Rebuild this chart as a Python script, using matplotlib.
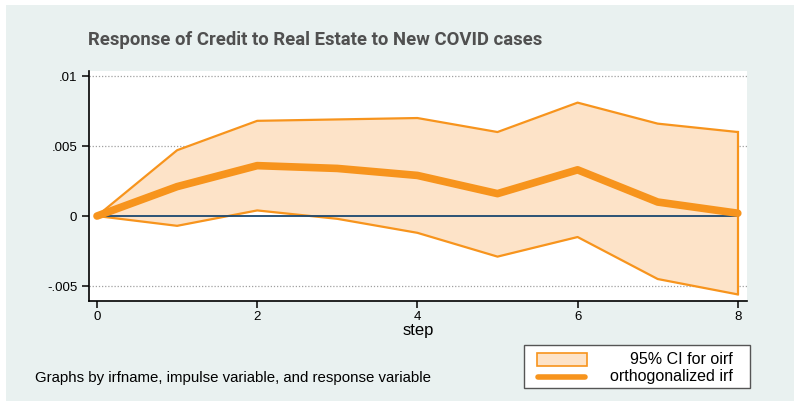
import matplotlib.pyplot as plt
from matplotlib.patches import Rectangle
from matplotlib.lines import Line2D

# IRF data
steps = [0, 1, 2, 3, 4, 5, 6, 7, 8]
irf = [0.0, 0.0021, 0.0036, 0.0034, 0.0029, 0.0016, 0.0033, 0.0010, 0.0002]
ci_upper = [0.0, 0.0047, 0.0068, 0.0069, 0.0070, 0.0060, 0.0081, 0.0066, 0.0060]
ci_lower = [0.0, -0.0007, 0.0004, -0.0002, -0.0012, -0.0029, -0.0015, -0.0045, -0.0056]
yticks = [-0.005, 0, 0.005, 0.01]
ytick_labels = ["-.005", "0", ".005", ".01"]
xticks = [0, 2, 4, 6, 8]
legend_labels = ["95% CI for oirf", "orthogonalized irf"]

orange = "#f7941d"
peach = "#fde3c8"
bg = "#e9f1f0"
W, H = 794, 404


def px(x, y):
    # pixel position (from top-left) -> figure fraction
    return x / W, 1 - y / H


fig = plt.figure(figsize=(W / 100, H / 100), dpi=100, facecolor="white")

# light background panel with a thin white margin, as in the reference
fig.add_artist(Rectangle(px(6, 401), 1 - 6 / W, 396 / H, transform=fig.transFigure,
                         facecolor=bg, edgecolor="none", zorder=-10))

ax = fig.add_axes([89 / W, (H - 301) / H, (747 - 89) / W, (301 - 71) / H])
ax.set_facecolor("white")

ax.fill_between(steps, ci_lower, ci_upper, color=peach, linewidth=0, zorder=2)
ax.plot(steps, ci_upper, color=orange, lw=1.6, zorder=3)
ax.plot(steps, ci_lower, color=orange, lw=1.6, zorder=3)
ax.plot([steps[-1], steps[-1]], [ci_lower[-1], ci_upper[-1]], color=orange, lw=1.6, zorder=3)
ax.plot([steps[0], steps[-1]], [0, 0], color="#1a476f", lw=1.3, zorder=4)
ax.plot(steps, irf, color=orange, lw=5.5, solid_capstyle="round", zorder=5)

for v in [-0.005, 0.005, 0.01]:
    ax.axhline(v, color="#a0a0a0", lw=0.9, ls=(0, (1, 1.5)), zorder=1)

ax.set_xlim(-0.1, 8.115)
ax.set_ylim(-0.00607, 0.01036)
ax.set_yticks(yticks)
ax.set_yticklabels(ytick_labels)
ax.set_xticks(xticks)
for s in ["top", "right"]:
    ax.spines[s].set_visible(False)
for s in ["left", "bottom"]:
    ax.spines[s].set_linewidth(1.2)
ax.tick_params(axis="both", labelsize=9.5, length=5, width=1.1, colors="black",
               labelfontfamily="Liberation Sans")
ax.tick_params(axis="x", pad=2)
ax.set_xlabel("step", fontsize=12, family="Liberation Sans", labelpad=0)

fig.text(*px(88, 45), "Response of Credit to Real Estate to New COVID cases",
         fontsize=13.3, fontweight="bold", family="Roboto", color="#505050")

fig.text(*px(35, 382), "Graphs by irfname, impulse variable, and response variable",
         fontsize=10.8, family="Liberation Sans")

# legend box, drawn by hand so labels can be right-aligned like Stata
fig.add_artist(Rectangle(px(524, 388), 226 / W, 43 / H, transform=fig.transFigure,
                         facecolor="white", edgecolor="#555555", lw=1.0))
fig.add_artist(Rectangle(px(537, 366), 50 / W, 13 / H, transform=fig.transFigure,
                         facecolor=peach, edgecolor=orange, lw=1.2))
lx0, ly = px(538, 377)
lx1, _ = px(585, 377)
fig.add_artist(Line2D([lx0, lx1], [ly, ly], transform=fig.transFigure,
                      color=orange, lw=4, solid_capstyle="round"))
fig.text(*px(733, 360), legend_labels[0], ha="right", va="center",
         fontsize=11.5, family="Liberation Sans")
fig.text(*px(733, 376), legend_labels[1], ha="right", va="center",
         fontsize=11.5, family="Liberation Sans")

fig.savefig("out.png", dpi=100, facecolor=fig.get_facecolor())
